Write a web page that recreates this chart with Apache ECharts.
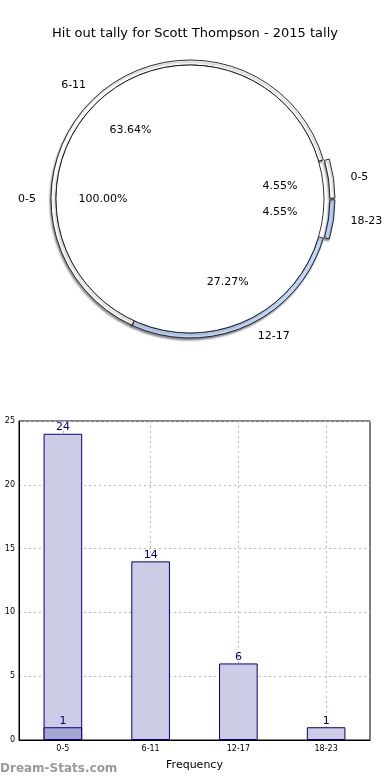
<!DOCTYPE html>
<html>
<head>
<meta charset="utf-8">
<script src="https://cdn.jsdelivr.net/npm/echarts@6/dist/echarts.min.js"></script>
<style>html,body{margin:0;padding:0;background:#fff}#c{width:390px;height:780px}</style>
</head>
<body>
<div id="c"></div>
<script>
var titleText = 'Hit out tally for Scott Thompson - 2015 tally';
// Pie data
var innerNames = ['0-5'];
var innerValues = [1];
var ringNames = ['0-5', '6-11', '12-17', '18-23'];
var ringValues = [1, 14, 6, 1];
var ringColors = ['#ffffff', '#ffffff', '#c4dcff', '#bcd6ff'];
var ringSelected = [true, false, false, true];
// Bar data
var barCategories = ['0-5', '6-11', '12-17', '18-23'];
var barValues = [24, 14, 6, 1];
var overlayValues = [1, null, null, null];
var yTicks = [0, 5, 10, 15, 20, 25];

var FONT = 'DejaVu Sans';
var chart = echarts.init(document.getElementById('c'));
var center = [190, 199];

function sum(a) { return a.reduce(function (s, v) { return s + v; }, 0); }
var innerSum = sum(innerValues), ringSum = sum(ringValues);
function pctInner(p) { return (innerValues[p.dataIndex] / innerSum * 100).toFixed(2) + '%'; }
function pctRing(p) { return (ringValues[p.dataIndex] / ringSum * 100).toFixed(2) + '%'; }

var option = {
  animation: false,
  textStyle: { fontFamily: FONT },
  title: {
    text: titleText, left: 'center', top: 22,
    textStyle: { fontFamily: FONT, fontSize: 13, fontWeight: 'normal', color: '#000' }
  },
  graphic: [{
    type: 'text', left: 0, top: 763,
    style: { text: 'Dream-Stats.com', fill: '#9a9a9a', font: 'bold 12px "DejaVu Sans"' }
  }],
  grid: {
    left: 19, right: 20, top: 421, bottom: 40, show: true, containLabel: false, outerBoundsMode: 'none',
    borderColor: '#000', borderWidth: 1, backgroundColor: 'transparent'
  },
  xAxis: {
    type: 'category', data: barCategories,
    name: 'Frequency', nameLocation: 'middle', nameGap: 20,
    nameTextStyle: { fontFamily: FONT, fontSize: 11, color: '#000' },
    axisLine: { lineStyle: { color: '#000' } },
    axisTick: { show: false },
    axisLabel: { fontFamily: FONT, fontSize: 8, color: '#000', margin: 5 },
    splitLine: { show: true, alignWithLabel: true, lineStyle: { color: '#bbb', type: [2, 3], width: 1 } }
  },
  yAxis: {
    type: 'value', min: yTicks[0], max: yTicks[yTicks.length - 1], interval: 5,
    name: 'Total Hit Outs', nameLocation: 'middle', nameGap: 17,
    nameTextStyle: { fontFamily: FONT, fontSize: 10, color: '#000' },
    axisLine: { show: true, lineStyle: { color: '#000' } },
    axisTick: { show: false },
    axisLabel: { fontFamily: FONT, fontSize: 8, color: '#000', margin: 4 },
    splitLine: { show: true, lineStyle: { color: '#bbb', type: [2, 3], width: 1 } }
  },
  series: [
    {
      type: 'bar', data: barValues, barWidth: '44%', z: 3,
      itemStyle: { color: '#ccccE6', borderColor: '#000080', borderWidth: 1 },
      label: { show: true, position: 'top', distance: 1, color: '#000080', fontFamily: FONT, fontSize: 11 }
    },
    {
      type: 'bar', data: overlayValues, barWidth: '44%', barGap: '-100%', z: 4,
      itemStyle: { color: '#a6a6d3', borderColor: '#000080', borderWidth: 1 },
      label: { show: true, position: 'top', distance: 1, color: '#000080', fontFamily: FONT, fontSize: 11 }
    },
    {
      type: 'pie', center: center, radius: [134, 139], startAngle: 0, clockwise: false,
      selectedMode: 'multiple', selectedOffset: 6, silent: true, z: 1,
      data: ringNames.map(function (n, i) {
        return { name: n, value: ringValues[i], selected: ringSelected[i], itemStyle: { color: ringColors[i] } };
      }),
      itemStyle: { borderColor: '#000', borderWidth: 0.8,
        shadowColor: 'rgba(0,0,0,0.45)', shadowBlur: 2, shadowOffsetX: -1, shadowOffsetY: 2 },
      label: { show: true, position: 'outside', formatter: '{b}', fontFamily: FONT, fontSize: 11, color: '#000', distanceToLabelLine: 5 },
      labelLine: { show: false, length: 12, length2: 0 }
    },
    {
      type: 'pie', center: center, radius: [0, 134], startAngle: 0, clockwise: false,
      silent: true, z: 2,
      data: innerNames.map(function (n, i) { return { name: n, value: innerValues[i] }; }),
      itemStyle: { color: '#fff', borderColor: '#000', borderWidth: 0.8 },
      label: { show: true, position: 'outside', formatter: '{b}', fontFamily: FONT, fontSize: 11, color: '#000', distanceToLabelLine: 5 },
      labelLine: { show: false, length: 15, length2: 0 }
    },
    {
      type: 'pie', center: center, radius: [0, 168], startAngle: 0, clockwise: false,
      silent: true, z: 5,
      data: innerNames.map(function (n, i) { return { name: n, value: innerValues[i] }; }),
      itemStyle: { color: 'rgba(0,0,0,0)', borderWidth: 0 },
      label: { show: true, position: 'inside', formatter: pctInner, fontFamily: FONT, fontSize: 11, color: '#000' },
      labelLine: { show: false }
    },
    {
      type: 'pie', center: center, radius: [0, 176], startAngle: 0, clockwise: false,
      silent: true, z: 5,
      data: ringNames.map(function (n, i) { return { name: n, value: ringValues[i] }; }),
      itemStyle: { color: 'rgba(0,0,0,0)', borderWidth: 0 },
      label: { show: true, position: 'inside', formatter: pctRing, fontFamily: FONT, fontSize: 11, color: '#000' },
      labelLine: { show: false }
    }
  ]
};
chart.setOption(option);
</script>
</body>
</html>
